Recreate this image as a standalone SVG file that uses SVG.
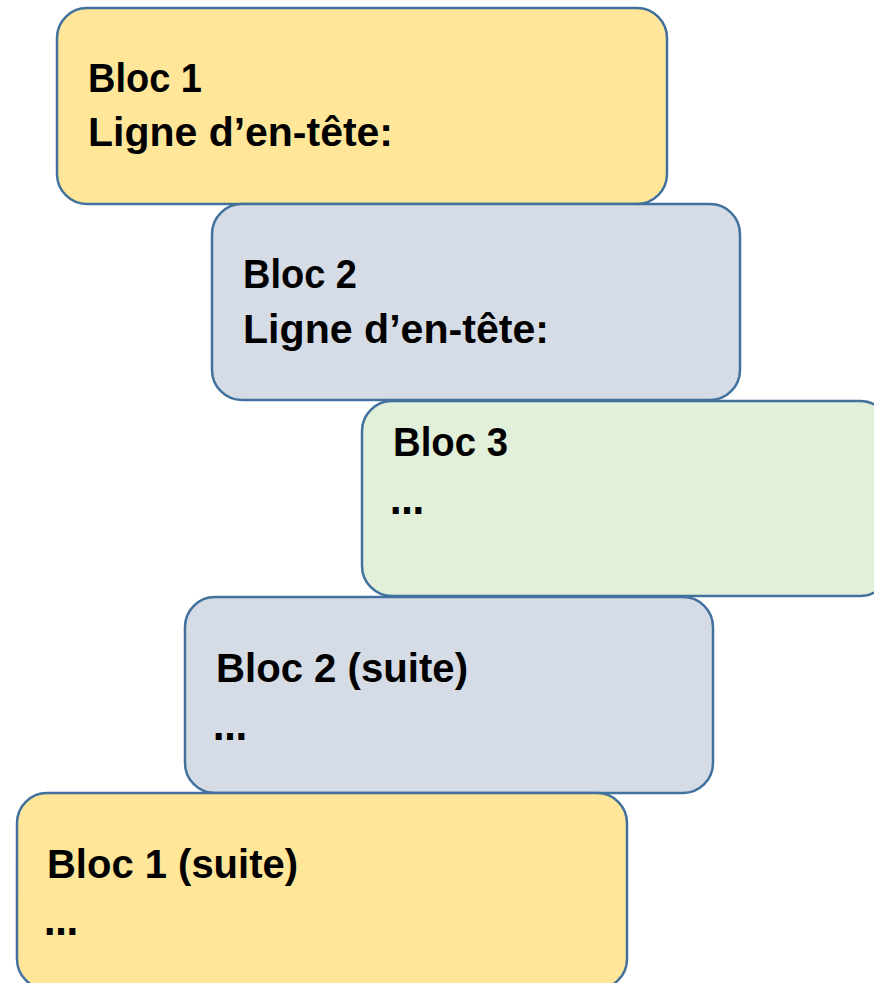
<svg xmlns="http://www.w3.org/2000/svg" width="874" height="983" viewBox="0 0 874 983">
<style>
.box{stroke:#41719C;stroke-width:2.5}
.y{fill:#FFE699}
.g{fill:#D6DCE5}
.gr{fill:#E2F0D9}
text{font-family:"Liberation Sans",Arial,sans-serif;font-weight:bold;font-size:40px;fill:#000}
text.e{font-family:"DejaVu Sans",sans-serif;font-size:38px}
</style>
<rect width="874" height="983" fill="#ffffff"/>
<g id="bloc1">
<rect class="box y" x="57" y="8" width="610" height="196" rx="30" ry="30"/>
<text x="88" y="92" textLength="114" lengthAdjust="spacingAndGlyphs">Bloc 1</text>
<text x="88" y="146" textLength="305" lengthAdjust="spacingAndGlyphs">Ligne d’en-tête:</text>
</g>
<g id="bloc2">
<rect class="box g" x="212" y="204" width="528" height="196" rx="30" ry="30"/>
<text x="243" y="288" textLength="114" lengthAdjust="spacingAndGlyphs">Bloc 2</text>
<text x="243" y="343" textLength="306" lengthAdjust="spacingAndGlyphs">Ligne d’en-tête:</text>
</g>
<g id="bloc3">
<rect class="box gr" x="362" y="401" width="528" height="195" rx="30" ry="30"/>
<text x="393" y="456" textLength="115" lengthAdjust="spacingAndGlyphs">Bloc 3</text>
<text class="e" x="390" y="514" textLength="34" lengthAdjust="spacingAndGlyphs">…</text>
</g>
<g id="bloc2suite">
<rect class="box g" x="185" y="597" width="528" height="196" rx="30" ry="30"/>
<text x="216" y="682" textLength="252" lengthAdjust="spacingAndGlyphs">Bloc 2 (suite)</text>
<text class="e" x="213" y="740" textLength="34" lengthAdjust="spacingAndGlyphs">…</text>
</g>
<g id="bloc1suite">
<rect class="box y" x="17" y="793" width="610" height="196" rx="30" ry="30"/>
<text x="47" y="878" textLength="251" lengthAdjust="spacingAndGlyphs">Bloc 1 (suite)</text>
<text class="e" x="44" y="935" textLength="34" lengthAdjust="spacingAndGlyphs">…</text>
</g>
<g id="connectors"></g>
</svg>
